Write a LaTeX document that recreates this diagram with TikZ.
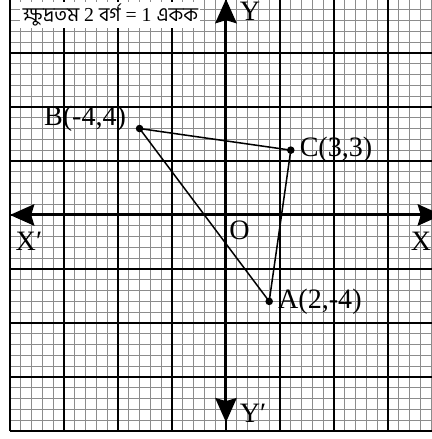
\documentclass[tikz,border=0pt]{standalone}
\usepackage{fontspec}
\setmainfont{Liberation Serif}
\newfontfamily\bengali[Script=Bengali]{Hind Siliguri}
\usetikzlibrary{arrows.meta,positioning}

\begin{document}
\begin{tikzpicture}[
  x=5mm,y=5mm,
  font=\fontsize{18.5}{20}\selectfont,
  minorline/.style={black!45,line width=0.45pt},
  majorline/.style={black,line width=0.9pt},
  axis/.style={{Stealth[length=16pt,width=14pt,inset=2pt]}-{Stealth[length=16pt,width=14pt,inset=2pt]},line width=2pt},
  side/.style={line width=1pt},
  dot/.style={circle,fill,inner sep=0pt,minimum size=5pt},
  lbl/.style={inner sep=1pt},
]
\useasboundingbox (-10.46,-10.37) rectangle (9.49,9.95);
% graph paper
\draw[minorline,step=0.5] (-10,-10) grid (10,10);
\draw[majorline,step=2.5] (-10,-10) grid (10,10);
% scale note
\node[fill=white,inner sep=1.5pt,minimum height=15.5pt,font=\fontsize{13}{15}\selectfont] (note) at (-5.35,9.26)
  {{\bengali ক্ষুদ্রতম} 2 {\bengali বর্গ} = 1 {\bengali একক}};
% axes
\coordinate (O) at (0,0);
\coordinate (xl) at (-10,0);
\coordinate (xr) at (10,0);
\coordinate (yt) at (0,10);
\coordinate (yb) at (0,-9.6);
\draw[axis] (xl) -- (xr);
\draw[axis] (yb) -- (yt);
\node[lbl] (lx1) at (-9.12,-1.2) {X′};
\node[lbl] (lx2) at (9.03,-1.2) {X};
\node[lbl] (ly1) at (1.11,9.44) {Y};
\node[lbl] (ly2) at (1.25,-9.19) {Y′};
\node[lbl,below right=2.5pt and 1pt of O] (lo) {O};
% triangle
\node[dot] (A) at (2,-4) {};
\node[dot] (B) at (-4,4) {};
\node[dot] (C) at (3,3) {};
\draw[side] (B.center) -- (C.center) -- (A.center) -- cycle;
\node[lbl,right=2pt of A] (la) {A(2,-4)};
\node[lbl,left=5pt of B,yshift=6.5pt] (lb) {B(-4,4)};
\node[lbl,right=2pt of C] (lc) {C(3,3)};
\end{tikzpicture}
\end{document}
